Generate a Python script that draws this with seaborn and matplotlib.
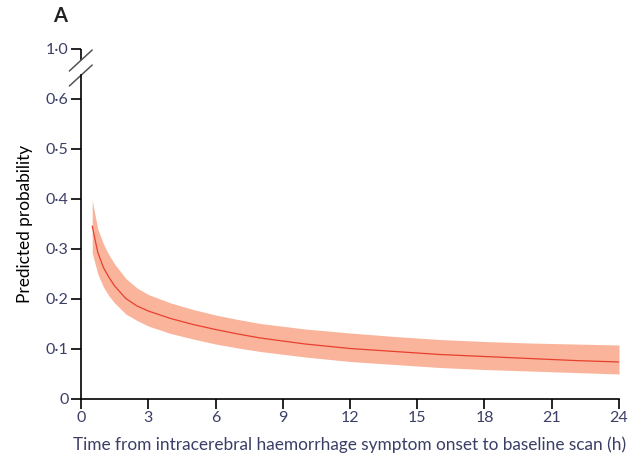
import matplotlib
matplotlib.use("Agg")
import matplotlib.pyplot as plt
import seaborn as sns
import pandas as pd

# Time from symptom onset to baseline scan (h) and modelled probability with 95% CI
hours = [0.5, 0.75, 1, 1.25, 1.5, 2, 2.5, 3, 4, 5, 6, 7, 8, 10, 12, 14, 16, 18, 20, 22, 24]
predicted = [0.346, 0.293, 0.263, 0.243, 0.226, 0.201, 0.186, 0.176, 0.161, 0.149, 0.139,
             0.130, 0.122, 0.110, 0.101, 0.095, 0.089, 0.085, 0.081, 0.077, 0.074]
upper_ci = [0.397, 0.340, 0.310, 0.288, 0.270, 0.241, 0.222, 0.209, 0.192, 0.179, 0.168,
            0.159, 0.151, 0.140, 0.132, 0.125, 0.119, 0.115, 0.112, 0.110, 0.108]
lower_ci = [0.292, 0.250, 0.224, 0.206, 0.192, 0.170, 0.157, 0.146, 0.131, 0.120, 0.110,
            0.102, 0.095, 0.084, 0.075, 0.069, 0.063, 0.059, 0.056, 0.053, 0.050]

x_ticks = [0, 3, 6, 9, 12, 15, 18, 21, 24]
y_ticks = [0, 0.1, 0.2, 0.3, 0.4, 0.5, 0.6, 0.7]
y_tick_labels = ["0", "0·1", "0·2", "0·3", "0·4", "0·5", "0·6", "1·0"]

df = pd.DataFrame({"hours": hours, "predicted": predicted,
                   "upper": upper_ci, "lower": lower_ci})

sns.set_theme(style="white")
plt.rcParams["font.family"] = ["Lato", "DejaVu Sans"]

text_col = "#3b3f66"
fig = plt.figure(figsize=(6.33, 4.63), dpi=100)
ax = fig.add_axes([81 / 633, 1 - 399 / 463, (619 - 81) / 633, 350 / 463])

ax.fill_between(df["hours"], df["lower"], df["upper"], color="#f9b49b", linewidth=0)
sns.lineplot(data=df, x="hours", y="predicted", color="#e8402e", linewidth=0.9, ax=ax)

ax.set_xlim(0, 24)
ax.set_ylim(0, 0.7)
ax.set_xticks(x_ticks)
ax.set_xticklabels([str(t) for t in x_ticks])
ax.set_yticks(y_ticks)
ax.set_yticklabels(y_tick_labels)

for side in ("top", "right"):
    ax.spines[side].set_visible(False)
for side in ("left", "bottom"):
    ax.spines[side].set_color("black")
    ax.spines[side].set_linewidth(1.2)

# broken y axis between 0·6 and 1·0
ax.spines["left"].set_bounds(0, 0.648)
ax.plot([0, 0], [0.678, 0.7], color="black", linewidth=1.2, clip_on=False,
        solid_capstyle="butt")
for yc in (0.678, 0.648):
    ax.plot([-0.52, 0.50], [yc - 0.022, yc + 0.020], color="#555555",
            linewidth=1.1, clip_on=False)

ax.tick_params(axis="both", direction="out", length=7, width=1.2, color="black",
               labelsize=11.5, labelcolor=text_col, pad=2, left=True, bottom=True)

ax.set_xlabel("Time from intracerebral haemorrhage symptom onset to baseline scan (h)",
              fontsize=12.4, color=text_col, labelpad=8)
ax.set_ylabel("Predicted probability", fontsize=12.4, color="black", labelpad=9)

fig.text(53 / 633, 1 - 16 / 463, "A", fontsize=14.5, fontweight="bold",
         color="#222222", va="center", ha="left")

fig.savefig("out.png", dpi=100)
